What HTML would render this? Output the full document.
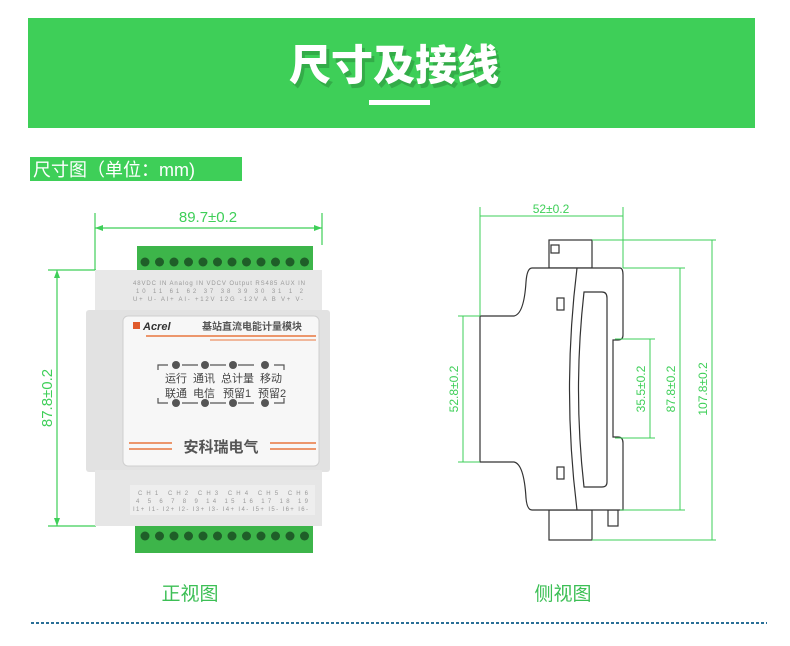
<!DOCTYPE html>
<html><head><meta charset="utf-8"><style>
html,body{margin:0;padding:0;background:#fff;}
body{width:790px;height:646px;overflow:hidden;position:relative;font-family:"Liberation Sans","Noto Sans CJK SC",sans-serif;}
</style></head><body>
<svg width="790" height="646" viewBox="0 0 790 646" xmlns="http://www.w3.org/2000/svg" style="position:absolute;left:0;top:0">
<!-- banner -->
<rect x="28" y="18" width="727" height="110" fill="#3ecf58"/>
<text x="397" y="84" text-anchor="middle" font-family="Noto Sans CJK SC,sans-serif" font-weight="900" font-size="42" fill="#2a8a3a" opacity="0.5">尺寸及接线</text>
<text x="394" y="80" text-anchor="middle" font-family="Noto Sans CJK SC,sans-serif" font-weight="900" font-size="42" fill="#fff">尺寸及接线</text>
<rect x="369" y="100" width="61" height="5" fill="#fff"/>
<!-- section label -->
<rect x="30" y="157" width="212" height="24" fill="#3ecf58"/>
<text x="33" y="176" font-family="Liberation Sans,Noto Sans CJK SC,sans-serif" font-size="18" fill="#fff">尺寸图（单位：mm)</text>

<!-- FRONT VIEW -->
<g stroke="#3ecf58" stroke-width="1.2" fill="none">
<line x1="95" y1="213" x2="95" y2="270"/><line x1="322" y1="213" x2="322" y2="245"/>
<line x1="95" y1="228" x2="322" y2="228"/>
<line x1="48" y1="270" x2="96" y2="270"/><line x1="48" y1="526" x2="96" y2="526"/>
<line x1="57" y1="270" x2="57" y2="526"/>
</g>
<path d="M95 228 l8 -3 v6z M322 228 l-8 -3 v6z M57 270 l-3 8 h6z M57 526 l-3 -8 h6z" fill="#3ecf58"/>
<text x="208" y="222" text-anchor="middle" font-size="15" fill="#3ecf58">89.7±0.2</text>
<text transform="translate(52,398) rotate(-90)" text-anchor="middle" font-size="15" fill="#3ecf58">87.8±0.2</text>

<!-- terminals top -->
<rect x="137" y="246" width="176" height="25" fill="#3db54a"/>
<g fill="#1f5e28">
<circle cx="145" cy="262" r="4.5"/><circle cx="159.5" cy="262" r="4.5"/><circle cx="174" cy="262" r="4.5"/><circle cx="188.5" cy="262" r="4.5"/><circle cx="203" cy="262" r="4.5"/><circle cx="217.5" cy="262" r="4.5"/><circle cx="232" cy="262" r="4.5"/><circle cx="246.5" cy="262" r="4.5"/><circle cx="261" cy="262" r="4.5"/><circle cx="275.5" cy="262" r="4.5"/><circle cx="290" cy="262" r="4.5"/><circle cx="304.5" cy="262" r="4.5"/>
</g>
<!-- body -->
<rect x="95" y="270" width="227" height="42" fill="#e8e8e8"/>
<rect x="86" y="310" width="244" height="162" rx="3" fill="#e2e2e2"/>
<rect x="95" y="470" width="227" height="56" fill="#e6e6e6"/>
<rect x="130" y="485" width="185" height="30" fill="#eeeeee"/>
<rect x="123" y="316" width="196" height="150" rx="5" fill="#f7f7f7" stroke="#cfcfcf"/>
<g font-size="6" fill="#999" text-anchor="start" xml:space="preserve">
<text x="133" y="285" textLength="172" lengthAdjust="spacing">48VDC IN Analog IN VDCV Output  RS485      AUX IN</text>
<text x="136" y="293" textLength="167" lengthAdjust="spacing">10  11  61  62  37  38  39  30  31        1  2</text>
<text x="133" y="301" textLength="170" lengthAdjust="spacing">U+  U-  AI+  AI-  +12V  12G  -12V  A  B      V+  V-</text>
<text x="138" y="495" textLength="170" lengthAdjust="spacing">CH1      CH2      CH3      CH4      CH5      CH6</text>
<text x="136" y="503" textLength="172" lengthAdjust="spacing">4  5  6  7  8  9  14  15  16  17  18  19</text>
<text x="133" y="511" textLength="175" lengthAdjust="spacing">I1+ I1- I2+ I2- I3+ I3- I4+ I4- I5+ I5- I6+ I6-</text>
</g>
<rect x="133" y="322" width="7" height="7" fill="#e05a2b"/>
<text x="143" y="330" font-size="11" font-weight="bold" font-style="italic" fill="#333">Acrel</text>
<text x="202" y="330" font-size="10" font-weight="bold" fill="#555">基站直流电能计量模块</text>
<line x1="146" y1="336" x2="316" y2="336" stroke="#e8773f" stroke-width="1.5"/>
<line x1="210" y1="340" x2="316" y2="340" stroke="#e8773f" stroke-width="1"/>
<g stroke="#555" stroke-width="1.2" fill="none">
<path d="M158 370 v-5 h10 M182 365 h16 M210 365 h16 M238 365 h16 M274 365 h10 v5"/>
<path d="M158 398 v5 h10 M182 403 h16 M210 403 h16 M238 403 h16 M274 403 h10 v-5"/>
</g>
<g fill="#555"><circle cx="176" cy="365" r="4"/><circle cx="205" cy="365" r="4"/><circle cx="233" cy="365" r="4"/><circle cx="265" cy="365" r="4"/>
<circle cx="176" cy="403" r="4"/><circle cx="205" cy="403" r="4"/><circle cx="233" cy="403" r="4"/><circle cx="265" cy="403" r="4"/></g>
<g font-size="11" fill="#444">
<text x="165" y="382">运行</text><text x="193" y="382">通讯</text><text x="221" y="382">总计量</text><text x="260" y="382">移动</text>
<text x="165" y="397">联通</text><text x="193" y="397">电信</text><text x="223" y="397">预留1</text><text x="258" y="397">预留2</text>
</g>
<g stroke="#e8773f" stroke-width="1.5"><line x1="129" y1="443" x2="172" y2="443"/><line x1="129" y1="449" x2="172" y2="449"/><line x1="270" y1="443" x2="316" y2="443"/><line x1="270" y1="449" x2="316" y2="449"/></g>
<text x="221" y="452" text-anchor="middle" font-size="15" font-weight="bold" fill="#555">安科瑞电气</text>
<!-- terminals bottom -->
<rect x="135" y="526" width="178" height="27" fill="#3db54a"/>
<g fill="#1f5e28">
<circle cx="145" cy="536" r="4.5"/><circle cx="159.5" cy="536" r="4.5"/><circle cx="174" cy="536" r="4.5"/><circle cx="188.5" cy="536" r="4.5"/><circle cx="203" cy="536" r="4.5"/><circle cx="217.5" cy="536" r="4.5"/><circle cx="232" cy="536" r="4.5"/><circle cx="246.5" cy="536" r="4.5"/><circle cx="261" cy="536" r="4.5"/><circle cx="275.5" cy="536" r="4.5"/><circle cx="290" cy="536" r="4.5"/><circle cx="304.5" cy="536" r="4.5"/>
</g>

<!-- SIDE VIEW -->
<g stroke="#333" stroke-width="1.2" fill="#fff">
<rect x="549" y="240" width="43" height="28"/>
<rect x="549" y="510" width="43" height="30"/>
<rect x="608" y="510" width="10" height="16"/>
<path d="M532 268 H620 Q623 268 623 275 V335 Q623 340 618 340 H613 V437 H618 Q623 437 623 443 V510 H532 Q527 510 526 498 Q524 464 514 462 H480 V316 H514 Q524 314 526 282 Q527 268 532 268Z"/>
<path d="M577 268 Q562 390 577 510" fill="none"/>
<path d="M584 292 H602 Q607 292 607 298 V482 Q607 487 602 487 H584 Q573 390 584 292Z"/>
<rect x="557" y="298" width="7" height="12"/>
<rect x="557" y="467" width="7" height="12"/>
<rect x="551" y="245" width="8" height="8"/>
</g>
<g stroke="#3ecf58" stroke-width="1" fill="none">
<line x1="480" y1="207" x2="480" y2="316"/><line x1="623" y1="207" x2="623" y2="268"/>
<line x1="480" y1="216" x2="623" y2="216"/>
<line x1="458" y1="316" x2="480" y2="316"/><line x1="458" y1="462" x2="480" y2="462"/><line x1="463" y1="316" x2="463" y2="462"/>
<line x1="615" y1="339" x2="655" y2="339"/><line x1="615" y1="438" x2="655" y2="438"/><line x1="650" y1="339" x2="650" y2="438"/>
<line x1="623" y1="268" x2="685" y2="268"/><line x1="620" y1="510" x2="685" y2="510"/><line x1="680" y1="268" x2="680" y2="510"/>
<line x1="592" y1="240" x2="716" y2="240"/><line x1="592" y1="540" x2="716" y2="540"/><line x1="712" y1="240" x2="712" y2="540"/>
</g>
<g font-size="12" fill="#3ecf58">
<text x="551" y="213" text-anchor="middle">52±0.2</text>
<text transform="translate(458,389) rotate(-90)" text-anchor="middle">52.8±0.2</text>
<text transform="translate(645,389) rotate(-90)" text-anchor="middle">35.5±0.2</text>
<text transform="translate(675,389) rotate(-90)" text-anchor="middle">87.8±0.2</text>
<text transform="translate(707,389) rotate(-90)" text-anchor="middle">107.8±0.2</text>
</g>

<!-- captions -->
<text x="190" y="600" text-anchor="middle" font-size="19" fill="#3cbf55">正视图</text>
<text x="563" y="600" text-anchor="middle" font-size="19" fill="#3cbf55">侧视图</text>
<line x1="31" y1="623" x2="767" y2="623" stroke="#2a6f97" stroke-width="2" stroke-dasharray="3,2"/>
</svg>
</body></html>
